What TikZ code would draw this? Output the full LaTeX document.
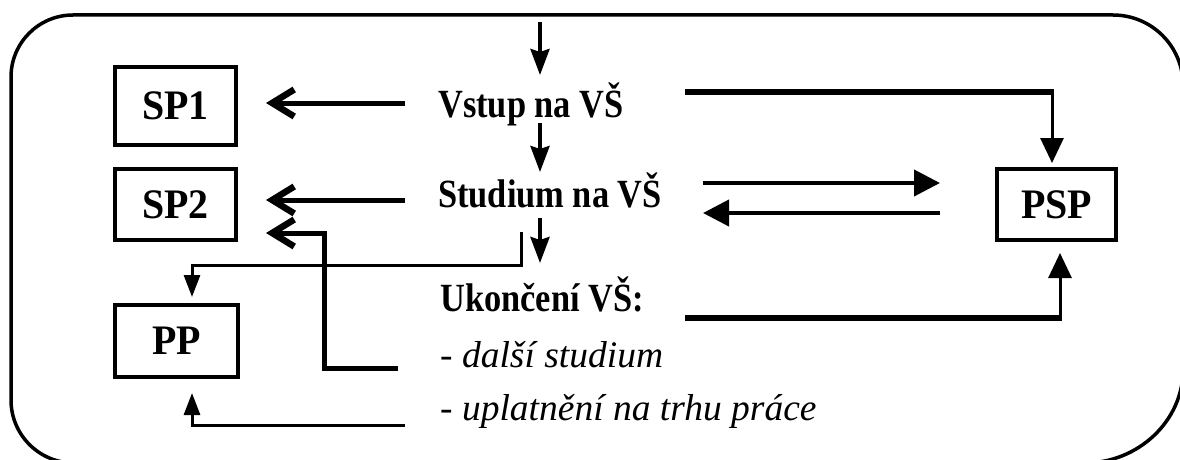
\documentclass[tikz,border=0pt]{standalone}
\usepackage{fontspec}
\setmainfont{Liberation Serif}
\newfontfamily\boldnarrow[FakeStretch=0.86]{Liberation Serif}
\newfontfamily\boxfont[FakeStretch=0.95]{Liberation Serif}
\usetikzlibrary{arrows.meta,calc}
\begin{document}
\begin{tikzpicture}[x=1pt,y=-1pt,
  box/.style={draw, line width=4pt, inner sep=0pt, font=\fontsize{42}{46}\selectfont\boxfont\bfseries},
  lbl/.style={anchor=base west, inner sep=0pt, font=\fontsize{40}{44}\selectfont\boldnarrow\bfseries},
  itlbl/.style={anchor=base west, inner sep=0pt, font=\fontsize{37.5}{42}\selectfont\itshape},
  down/.style={line width=4pt, -{Stealth[length=26pt,width=19pt,inset=3pt]}},
  chev/.style={line width=5pt, -{Straight Barb[length=22pt,width=27pt,line width=6.5pt]}},
  bar/.style={line width=5.5pt},
  psparr/.style={line width=3pt, -{Triangle[length=25pt,width=23pt]}},
  midarr/.style={line width=4pt, -{Triangle[length=26pt,width=26pt]}},
  pparr/.style={line width=3pt, -{Triangle[length=22pt,width=16pt]}},
  frame/.style={line width=3.5pt}
]
\useasboundingbox (0,0) rectangle (1180,460);
\clip (0,0) rectangle (1180,460);

% frame (rounded, partly outside the picture)
\draw[frame] (74,463) .. controls (39.2,463) and (11,434.8) .. (11,400)
  -- (11,77) .. controls (11,42.8) and (38.8,15) .. (73,15)
  -- (1113,15) .. controls (1151.7,15) and (1183,46.3) .. (1183,85)
  -- (1183,370) .. controls (1183,421) and (1138,463) .. (1085,463)
  -- cycle;

% boxes
\node[box, minimum width=121pt, minimum height=78pt] (sp1) at (175.5,106) {SP1};
\node[box, minimum width=121pt, minimum height=71pt] (sp2) at (175.5,204.5) {SP2};
\node[box, minimum width=123pt, minimum height=72pt] (pp) at (176.5,341) {PP};
\node[box, minimum width=119pt, minimum height=71pt] (psp) at (1056.5,204.5) {PSP};

% texts
\node[lbl] (vstup) at (438,117) {Vstup na VŠ};
\node[lbl] (studium) at (438,207) {Studium na VŠ};
\node[lbl] (ukonceni) at (440,311) {Ukončení VŠ:};
\node[itlbl] (dalsi) at (440,367) {- další studium};
\node[itlbl] (uplat) at (440,420) {- uplatnění na trhu práce};

% central column
\coordinate (entry) at (540,22);
\draw[down] (entry) -- ($(entry |- vstup.base)+(0,-42)$);
\draw[down] ($(entry |- vstup.base)+(0,6)$) -- ($(entry |- studium.base)+(0,-35)$);
\draw[down] ($(entry |- studium.base)+(0,11)$) -- ($(entry |- ukonceni.base)+(0,-48)$);

% to SP1, SP2
\draw[chev] ($(vstup.base west)+(-33,-14)$) -- ($(sp1.east)+(28,-3)$);
\draw[chev] ($(studium.base west)+(-33,-7)$) -- ($(sp2.east)+(28,-4.5)$);
\draw[chev] ($(dalsi.base west)+(-42,1)$) -| ($(sp2.east)+(86,28.5)$) -- ($(sp2.east)+(28,28.5)$);

% to PP
\coordinate (sout) at ($(studium.base west)+(83,25)$);
\draw[pparr] (sout) |- ($(pp.north)+(15.5,-38)$) -- ($(pp.north)+(15.5,-6)$);
\draw[pparr] ($(uplat.base west)+(-35,5)$) -| ($(pp.south)+(15.5,14)$);

% to PSP
\coordinate (vc) at ($(psp.north)+(-4.5,-75)$);
\draw[bar] ($(vstup.base west)+(247,-25)$) -- ($(vc)+(1.5,0)$);
\draw[psparr] (vc) -- ($(psp.north)+(-4.5,-4)$);
\coordinate (uc) at ($(psp.south)+(3.5,76)$);
\draw[bar] ($(ukonceni.base west)+(245,7)$) -- ($(uc)+(1.5,0)$);
\draw[psparr] (uc) -- ($(psp.south)+(3.5,11)$);
\draw[midarr] ($(studium.base west)+(265,-24)$) -- ($(psp.west)+(-55,-21.5)$);
\draw[midarr] ($(psp.west)+(-55,8.5)$) -- ($(studium.base west)+(265,6)$);
\end{tikzpicture}
\end{document}
